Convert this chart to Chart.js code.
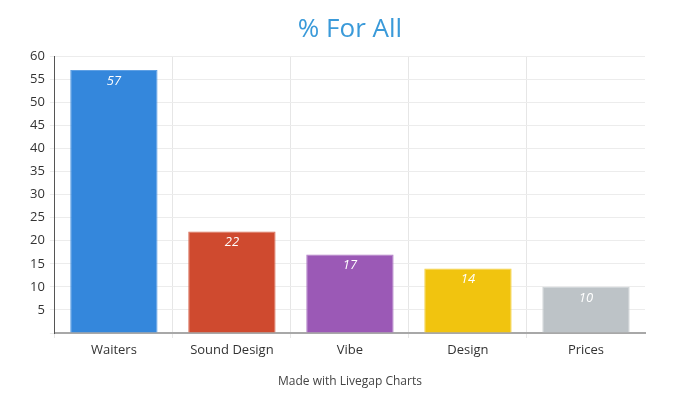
<!DOCTYPE html>
<html>
<head>
<meta charset="utf-8">
<script src="https://cdn.jsdelivr.net/npm/chart.js@4/dist/chart.umd.min.js"></script>
<style>
  html, body { margin: 0; padding: 0; background: #fff; }
  #wrap { width: 700px; height: 400px; }
</style>
</head>
<body>
<div id="wrap"><canvas id="chart"></canvas></div>
<script>
const categories = ["Waiters", "Sound Design", "Vibe", "Design", "Prices"];
const values = [57, 22, 17, 14, 10];
const barColors = ["#3487dc", "#cf4a2f", "#9b59b6", "#f1c40f", "#bdc3c7"];
const borderColors = ["#5fa0e4", "#d96d56", "#ae7ac4", "#f4d03f", "#cdd2d5"];

// valeurs en italique dans le haut des barres
const valueLabels = {
    id: "valueLabels",
    afterDatasetsDraw(chart) {
        const ctx = chart.ctx;
        const meta = chart.getDatasetMeta(0);
        ctx.save();
        ctx.font = "italic 13px 'Open Sans'";
        ctx.fillStyle = "#ffffff";
        ctx.textAlign = "center";
        ctx.textBaseline = "middle";
        meta.data.forEach((bar, i) => {
            ctx.fillText(values[i], bar.x, bar.y + 11);
        });
        ctx.restore();
    }
};

new Chart(document.getElementById("chart").getContext("2d"), {
    type: "bar",
    data: {
        labels: categories,
        datasets: [{
            data: values,
            backgroundColor: barColors,
            borderColor: borderColors,
            borderWidth: 1,
            barPercentage: 0.74,
            categoryPercentage: 1
        }]
    },
    options: {
        responsive: true,
        maintainAspectRatio: false,
        animation: false,
        layout: { padding: { left: 25, right: 25, top: 0, bottom: 7 } },
        plugins: {
            legend: { display: false },
            tooltip: { enabled: false },
            title: {
                display: true,
                text: "% For All",
                color: "#3a9ad9",
                font: { family: "Open Sans", size: 26, weight: "normal" },
                padding: { top: 14, bottom: 11 }
            }
        },
        scales: {
            x: {
                grid: {
                    // pas de ligne au bord droit
                    color: c => c.tick === undefined ? "rgba(0,0,0,0)" : "#e6e6e6",
                    tickLength: 5
                },
                border: { color: "#a8a8a8", width: 2 },
                ticks: { color: "#333", font: { family: "Open Sans", size: 13 }, padding: 4 },
                title: {
                    display: true,
                    text: "Made with Livegap Charts",
                    color: "#444",
                    font: { family: "Open Sans", size: 12 },
                    padding: { top: 13 }
                }
            },
            y: {
                min: 0,
                max: 60,
                grid: { color: "#ececec", tickLength: 5 },
                border: { color: "#555", width: 1 },
                ticks: {
                    stepSize: 5,
                    color: "#333",
                    font: { family: "Open Sans", size: 13 },
                    padding: 5,
                    callback: v => v === 0 ? "" : v
                }
            },
            // axe vide à droite, juste pour garder le titre centré
            yRight: {
                position: "right",
                grid: { display: false, drawTicks: false },
                border: { display: false },
                ticks: { display: false },
                afterFit: s => { s.width = 30; }
            }
        }
    },
    plugins: [valueLabels]
});
</script>
</body>
</html>
